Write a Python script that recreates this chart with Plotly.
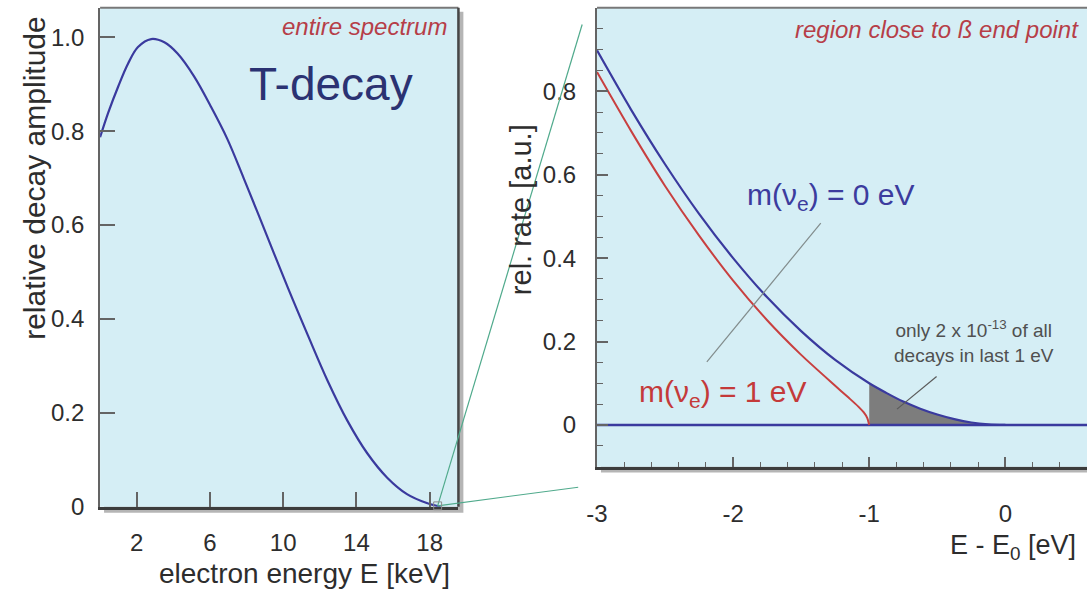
import plotly.graph_objects as go

W, H = 1087, 601

# ---------------- data ----------------
# left panel: entire tritium beta spectrum
energy_keV = [0, 0.45, 0.99, 1.53, 2.07, 2.79, 3.51, 4.23, 5.14, 6.04, 6.94, 7.84, 8.65,
              10.27, 11.35, 12.43, 13.51, 14.59, 15.68, 16.76, 17.84, 18.6]
amplitude = [0.787, 0.84, 0.895, 0.944, 0.979, 0.996, 0.989, 0.965, 0.916, 0.853, 0.784,
             0.700, 0.622, 0.465, 0.365, 0.268, 0.183, 0.114, 0.062, 0.027, 0.008, 0.0]
left_xticks = [2, 6, 10, 14, 18]
left_yticks = [0, 0.2, 0.4, 0.6, 0.8, 1.0]
left_yticktext = ["0", "0.2", "0.4", "0.6", "0.8", "1.0"]

# right panel: region close to the end point
de_m0 = [-3.0, -2.75, -2.5, -2.25, -2.0, -1.75, -1.5, -1.25, -1.0, -0.875, -0.75,
         -0.625, -0.5, -0.375, -0.25, -0.125, 0.0]
rate_m0 = [0.898, 0.756, 0.625, 0.506, 0.4, 0.306, 0.225, 0.156, 0.1, 0.077, 0.056,
           0.039, 0.025, 0.014, 0.006, 0.0016, 0.0]
de_m1 = [-3.0, -2.75, -2.5, -2.25, -2.0, -1.75, -1.5, -1.25, -1.15, -1.08, -1.04,
         -1.015, -1.0]
rate_m1 = [0.846, 0.705, 0.573, 0.454, 0.346, 0.251, 0.168, 0.094, 0.065, 0.044,
           0.03, 0.017, 0.0]
baseline_x = [-3.0, 0.6]
baseline_y = [0.0, 0.0]
right_xticks = [-3, -2, -1, 0]
right_xticktext = ["-3", "-2", "-1", "0"]
right_yticks = [0, 0.2, 0.4, 0.6, 0.8]
right_yticktext = ["0", "0.2", "0.4", "0.6", "0.8"]

# ---------------- styles ----------------
BG = "rgb(213,238,245)"
NAVY = "rgb(58,58,158)"
RED = "rgb(200,64,64)"
TITLE_RED = "rgb(182,62,72)"
TEAL = "rgb(80,170,140)"
FONT = "Liberation Sans, Arial, sans-serif"


def px(x):
    return x / W


def py(y):
    return 1 - y / H


L = dict(x0=90, x1=452, y0=8, y1=518)
R = dict(x0=592, x1=1087, y0=8, y1=477)

fig = go.Figure()

# left curve
fig.add_trace(go.Scatter(x=energy_keV, y=amplitude, mode="lines",
                         line=dict(color=NAVY, width=2.2, shape="spline", smoothing=1.0),
                         xaxis="x", yaxis="y", hoverinfo="skip"))

# right: shaded last-eV region below m=0 curve
fill_x = [-1.0] + [d for d in de_m0 if d >= -1.0]
fill_y = [0.0] + [r for d, r in zip(de_m0, rate_m0) if d >= -1.0]
fig.add_trace(go.Scatter(x=fill_x, y=fill_y, mode="lines", fill="toself",
                         fillcolor="rgb(125,125,125)", line=dict(width=0),
                         xaxis="x2", yaxis="y2", hoverinfo="skip"))
fig.add_trace(go.Scatter(x=baseline_x, y=baseline_y, mode="lines",
                         line=dict(color=NAVY, width=2.5),
                         xaxis="x2", yaxis="y2", hoverinfo="skip"))
fig.add_trace(go.Scatter(x=de_m1, y=rate_m1, mode="lines",
                         line=dict(color=RED, width=2, shape="spline", smoothing=0.7),
                         xaxis="x2", yaxis="y2", hoverinfo="skip"))
fig.add_trace(go.Scatter(x=de_m0, y=rate_m0, mode="lines",
                         line=dict(color=NAVY, width=2.2, shape="spline", smoothing=0.8),
                         xaxis="x2", yaxis="y2", hoverinfo="skip"))

shapes = []
# shadows + backgrounds
shapes.append(dict(type="rect", xref="paper", yref="paper", layer="below",
                   x0=px(L["x0"] + 4), x1=px(L["x1"] + 5), y0=py(L["y1"] + 6), y1=py(L["y0"] + 4),
                   fillcolor="rgba(70,70,70,0.4)", line=dict(width=0)))
shapes.append(dict(type="rect", xref="paper", yref="paper", layer="below",
                   x0=px(R["x0"] + 4), x1=px(R["x1"] + 5), y0=py(R["y1"] + 6), y1=py(R["y0"] + 4),
                   fillcolor="rgba(70,70,70,0.4)", line=dict(width=0)))
shapes.append(dict(type="rect", xref="paper", yref="paper", layer="below",
                   x0=px(L["x0"]), x1=px(L["x1"]), y0=py(L["y1"]), y1=py(L["y0"]),
                   fillcolor=BG, line=dict(width=0)))
shapes.append(dict(type="rect", xref="paper", yref="paper", layer="below",
                   x0=px(R["x0"]), x1=px(R["x1"]), y0=py(R["y1"]), y1=py(R["y0"]),
                   fillcolor=BG, line=dict(width=0)))
# borders (top / right of left panel, top of right panel)
shapes.append(dict(type="line", xref="paper", yref="paper",
                   x0=px(L["x0"]), x1=px(L["x1"]), y0=py(L["y0"]), y1=py(L["y0"]),
                   line=dict(color="rgb(120,120,120)", width=2)))
shapes.append(dict(type="line", xref="paper", yref="paper",
                   x0=px(L["x1"]), x1=px(L["x1"]), y0=py(L["y0"]), y1=py(L["y1"]),
                   line=dict(color="rgb(70,70,70)", width=2.5)))
shapes.append(dict(type="line", xref="paper", yref="paper",
                   x0=px(R["x0"]), x1=px(R["x1"]), y0=py(R["y0"]), y1=py(R["y0"]),
                   line=dict(color="rgb(120,120,120)", width=2)))
# zoom connector lines + small square
shapes.append(dict(type="line", xref="paper", yref="paper",
                   x0=px(431), y0=py(517), x1=px(577), y1=py(25),
                   line=dict(color=TEAL, width=1.2)))
shapes.append(dict(type="line", xref="paper", yref="paper",
                   x0=px(431), y0=py(517), x1=px(573), y1=py(498),
                   line=dict(color=TEAL, width=1.2)))
shapes.append(dict(type="rect", xref="paper", yref="paper",
                   x0=px(427), x1=px(435), y0=py(521), y1=py(513),
                   line=dict(color="rgb(140,140,140)", width=1)))
# pointer lines in right panel
shapes.append(dict(type="line", xref="x2", yref="y2", x0=-1.356, y0=0.484, x1=-2.193, y1=0.151,
                   line=dict(color="rgb(130,140,140)", width=1.2)))
shapes.append(dict(type="line", xref="x2", yref="y2", x0=-0.505, y0=0.116, x1=-0.796, y1=0.038,
                   line=dict(color="rgb(90,90,90)", width=1.2)))

annotations = []


def ann(text, x, y, size, color, xanchor="center", yanchor="middle", angle=0):
    annotations.append(dict(text=text, x=px(x), y=py(y), xref="paper", yref="paper",
                            xanchor=xanchor, yanchor=yanchor, showarrow=False,
                            textangle=angle, font=dict(family=FONT, size=size, color=color)))


ann("T-decay", 323, 86, 46, "rgb(43,50,114)")
ann("<i>entire spectrum</i>", 442, 27, 24, TITLE_RED, xanchor="right")
ann("<i>region close to ß end point</i>", 1081, 30, 24, TITLE_RED, xanchor="right")
ann("m(ν<sub>e</sub>) = 0 eV", 742, 201, 30, "rgb(60,60,158)", xanchor="left")
ann("m(ν<sub>e</sub>) = 1 eV", 632, 402, 30, "rgb(196,58,58)", xanchor="left")
ann("only 2 x 10<sup>-13</sup> of all<br>decays in last 1 eV", 973, 349, 19, "rgb(80,80,80)")
ann("relative decay amplitude", 23, 182, 30, "rgb(45,45,45)", angle=-90)
ann("electron energy E [keV]", 297, 586, 28, "rgb(45,45,45)")
ann("rel. rate [a.u.]", 516, 214, 29, "rgb(45,45,45)", angle=-90)
ann("E - E<sub>0</sub> [eV]", 1078, 559, 27, "rgb(45,45,45)", xanchor="right")

tickfont = dict(family=FONT, size=24, color="rgb(45,45,45)")
tickfont_r = dict(family=FONT, size=24, color="rgb(45,45,45)")

fig.update_layout(
    width=W, height=H, margin=dict(l=0, r=0, t=0, b=0),
    paper_bgcolor="white", plot_bgcolor="rgba(0,0,0,0)", showlegend=False,
    shapes=shapes, annotations=annotations,
    xaxis=dict(domain=[px(L["x0"]), px(L["x1"])], range=[0, 19.57], anchor="y",
               tickmode="array", tickvals=left_xticks, ticks="inside", ticklen=15,
               tickwidth=1.5, tickcolor="rgb(100,100,100)", showgrid=False, zeroline=False,
               showline=True, linecolor="rgb(60,60,60)", linewidth=3,
               tickfont=tickfont, ticklabelstandoff=12, fixedrange=True),
    yaxis=dict(domain=[py(L["y1"]), py(L["y0"])], range=[0, 1.0625], anchor="x",
               tickmode="array", tickvals=left_yticks, ticktext=left_yticktext,
               ticks="inside", ticklen=15, tickwidth=1.5, tickcolor="rgb(100,100,100)",
               showgrid=False, zeroline=False, showline=True,
               linecolor="rgb(100,100,100)", linewidth=2,
               tickfont=tickfont, ticklabelstandoff=9, fixedrange=True),
    xaxis2=dict(domain=[px(R["x0"]), 1.0], range=[-3, 0.6], anchor="y2",
                tickmode="array", tickvals=right_xticks, ticktext=right_xticktext,
                ticks="inside", ticklen=10, tickwidth=1.5, tickcolor="rgb(100,100,100)",
                minor=dict(tickmode="linear", tick0=0, dtick=0.2, ticks="inside",
                           ticklen=5, tickcolor="rgb(100,100,100)", tickwidth=1.2, showgrid=False),
                showgrid=False, zeroline=False, showline=True,
                linecolor="rgb(60,60,60)", linewidth=3,
                tickfont=tickfont_r, ticklabelstandoff=24, fixedrange=True),
    yaxis2=dict(domain=[py(R["y1"]), py(R["y0"])], range=[-0.1, 1.0], anchor="x2",
                tickmode="array", tickvals=right_yticks, ticktext=right_yticktext,
                ticks="inside", ticklen=11, tickwidth=1.5, tickcolor="rgb(100,100,100)",
                minor=dict(tickmode="linear", tick0=0, dtick=0.05, ticks="inside",
                           ticklen=6, tickcolor="rgb(100,100,100)", tickwidth=1.2, showgrid=False),
                showgrid=False, zeroline=False, showline=True,
                linecolor="rgb(100,100,100)", linewidth=2,
                tickfont=tickfont_r, ticklabelstandoff=14, fixedrange=True),
)

fig.write_html("out.html", config={"displayModeBar": False},
               post_script="document.body.style.margin='0px';document.body.style.overflow='hidden';")
